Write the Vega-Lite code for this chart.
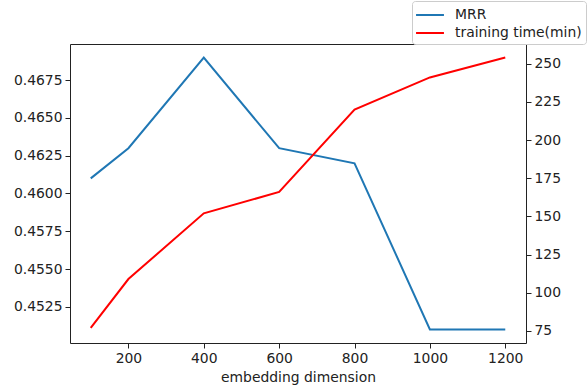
{
  "$schema": "https://vega.github.io/schema/vega-lite/v6.json",
  "width": 456,
  "height": 299,
  "autosize": {"type": "none"},
  "padding": {"left": 70, "top": 44, "right": 62, "bottom": 47},
  "background": "white",
  "config": {
    "font": "DejaVu Sans",
    "view": {"stroke": "#222", "strokeWidth": 1},
    "axis": {
      "domain": false,
      "grid": false,
      "tickColor": "#222",
      "tickSize": 5,
      "tickWidth": 1,
      "labelFont": "DejaVu Sans",
      "labelFontSize": 13.9,
      "labelColor": "#222",
      "labelPadding": 3,
      "titleFont": "DejaVu Sans",
      "titleFontSize": 13.9,
      "titleFontWeight": "normal",
      "titleColor": "#222"
    }
  },
  "data": {
    "values": [
      {"dim": 100, "mrr": 0.461, "time": 77},
      {"dim": 200, "mrr": 0.463, "time": 109},
      {"dim": 400, "mrr": 0.469, "time": 152},
      {"dim": 600, "mrr": 0.463, "time": 166},
      {"dim": 800, "mrr": 0.462, "time": 220},
      {"dim": 1000, "mrr": 0.451, "time": 241},
      {"dim": 1200, "mrr": 0.451, "time": 254}
    ]
  },
  "encoding": {
    "x": {
      "field": "dim",
      "type": "quantitative",
      "scale": {"domain": [45, 1255], "nice": false, "zero": false},
      "axis": {"values": [200, 400, 600, 800, 1000, 1200], "format": "d", "title": "embedding dimension", "titlePadding": 6}
    }
  },
  "layer": [
    {
      "mark": {"type": "line", "strokeWidth": 2},
      "encoding": {
        "y": {
          "field": "mrr",
          "type": "quantitative",
          "scale": {"domain": [0.4501, 0.4699], "nice": false, "zero": false},
          "axis": {"orient": "left", "title": null, "format": ".4f", "values": [0.4525, 0.455, 0.4575, 0.46, 0.4625, 0.465, 0.4675]}
        },
        "color": {
          "datum": "MRR",
          "type": "nominal",
          "scale": {"domain": ["MRR", "training time(min)"], "range": ["#1f77b4", "#ff0000"]},
          "legend": {
            "title": null,
            "orient": "none",
            "legendX": 342,
            "legendY": -43,
            "symbolType": "M-1.55,0H1.55",
            "symbolSize": 324,
            "symbolStrokeWidth": 2,
            "symbolOffset": 4,
            "labelFontSize": 13.9,
            "labelFont": "DejaVu Sans",
            "labelColor": "#222",
            "strokeColor": "#cccccc",
            "fillColor": "white",
            "cornerRadius": 3,
            "padding": 4,
            "rowPadding": 1,
            "labelOffset": 15
          }
        }
      }
    },
    {
      "mark": {"type": "line", "strokeWidth": 2},
      "encoding": {
        "y": {
          "field": "time",
          "type": "quantitative",
          "scale": {"domain": [67.1, 262.9], "nice": false, "zero": false},
          "axis": {"orient": "right", "title": null, "values": [75, 100, 125, 150, 175, 200, 225, 250]}
        },
        "color": {"datum": "training time(min)", "type": "nominal"}
      }
    }
  ],
  "resolve": {"scale": {"y": "independent"}}
}
